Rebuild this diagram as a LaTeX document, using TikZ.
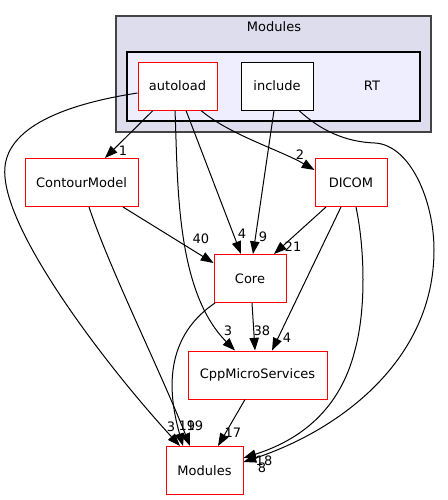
\documentclass[tikz,border=0pt]{standalone}
\usepackage{fontspec}
\setmainfont{DejaVu Sans}
\usepackage{tikz}
\usetikzlibrary{arrows.meta,calc}
\definecolor{dxred}{RGB}{255,0,0}
\definecolor{dxouter}{RGB}{221,221,238}
\definecolor{dxinner}{RGB}{238,238,255}
\definecolor{dxgray}{RGB}{68,68,68}
\tikzstyle{dirbox} = [rectangle, minimum height=36pt, inner sep=0pt, text centered, draw=dxred, fill=white, line width=0.75pt, font=\fontsize{9.75}{11}\selectfont]
\tikzstyle{localbox} = [dirbox, draw=black]
\tikzstyle{outerbox} = [draw=dxgray, fill=dxouter, line width=0.8pt]
\tikzstyle{innerbox} = [draw=black, fill=dxinner, line width=0.8pt]
\tikzstyle{deplabel} = [inner sep=0pt, font=\fontsize{9.75}{11}\selectfont]
\tikzstyle{dep} = [line width=0.75pt, -{Triangle[length=9.5pt,width=7pt]}, color=black]

\begin{document}
\begin{tikzpicture}[x=0.75pt, y=-0.75pt]
\useasboundingbox (0,0) rectangle (447,500);

% Modules cluster
\draw[outerbox] (116,16) rectangle (431,132);
\node[deplabel] (modtitle) at (274,27) {Modules};

% RT cluster
\draw[innerbox] (127,52) rectangle (420,121);
\node[deplabel] (rttitle) at (372,86) {RT};

% Directories inside RT
\node[dirbox, minimum width=59.25pt] (autoload) at (177.5,86) {autoload};
\node[localbox, minimum width=54pt] (include) at (277,86) {include};

% Other directories
\node[dirbox, minimum width=84.75pt] (contour) at (81.5,182.5) {ContourModel};
\node[dirbox, minimum width=54pt] (dicom) at (351,182.5) {DICOM};
\node[dirbox, minimum width=54pt] (core) at (250,278.5) {Core};
\node[dirbox, minimum width=104.25pt] (cppms) at (257.5,375) {CppMicroServices};
\node[dirbox, minimum width=57.75pt] (modules) at (204.5,470.5) {Modules};

% autoload dependencies
\draw[dep] ($(autoload.south)+(-24.5,0)$) -- ($(contour.north)+(23.5,0)$);
\draw[dep] ($(autoload.south)+(23.5,0)$) .. controls (230,135) and (280,150) .. ($(dicom.west)+(0,-12.5)$);
\draw[dep] ($(autoload.south)+(8.5,0)$) -- ($(core.north)+(-9,0)$);
\draw[dep] ($(autoload.south)+(-2.5,0)$) .. controls (178,180) and (175,290) .. ($(cppms.north)+(-22.5,0)$);
\draw[dep] ($(autoload.west)+(0,7)$) .. controls (60,105) and (0,130) .. (5,177)
  .. controls (10,240) and (110,370) .. ($(modules.north)+(-24.5,0)$);

% include dependencies
\draw[dep] ($(include.south)+(-3,0)$) -- ($(core.north)+(3,0)$);
\draw[dep] ($(include.south)+(22,0)$) .. controls (320,130) and (345,142) .. (375,143)
  .. controls (410,145) and (434,200) .. (434,250)
  .. controls (434,360) and (340,430) .. ($(modules.east)+(0,-8.5)$);

% ContourModel dependencies
\draw[dep] ($(contour.south)+(41.5,0)$) -- ($(core.west)+(0,-15.5)$);
\draw[dep] ($(contour.south)+(7.5,0)$) .. controls (110,270) and (160,370) .. ($(modules.north)+(-14.5,0)$);

% DICOM dependencies
\draw[dep] ($(dicom.south)+(-25,0)$) -- ($(core.north)+(24,0)$);
\draw[dep] ($(dicom.south)+(-10,0)$) -- ($(cppms.north)+(14.5,0)$);
\draw[dep] ($(dicom.south)+(5,0)$) .. controls (365,250) and (366,310) .. (355,350)
  .. controls (340,410) and (300,440) .. ($(modules.east)+(0,-12.5)$);

% Core and CppMicroServices
\draw[dep] ($(core.south)+(-35,0)$) .. controls (160,340) and (170,400) .. ($(modules.north)+(-21.5,0)$);
\draw[dep] ($(core.south)+(2,0)$) -- ($(cppms.north)+(-2.5,0)$);
\draw[dep] ($(cppms.south)+(-12.5,0)$) -- ($(modules.north)+(13.5,0)$);

% Counts
\node[deplabel] (n1) at (123,151) {1};
\node[deplabel] (n2) at (300,155) {2};
\node[deplabel] (n3) at (242,234) {4};
\node[deplabel] (n4) at (263,237) {9};
\node[deplabel] (n5) at (201,239) {40};
\node[deplabel] (n6) at (293,247) {21};
\node[deplabel] (n7) at (228,331) {3};
\node[deplabel] (n8) at (262,331) {38};
\node[deplabel] (n9) at (287,338) {4};
\node[deplabel] (n10) at (171,427) {3};
\node[deplabel] (n11) at (187,426) {19};
\node[deplabel] (n12) at (195,426) {19};
\node[deplabel] (n13) at (233,433) {17};
\node[deplabel] (n14) at (264,461) {18};
\node[deplabel] (n15) at (262,468) {8};
\end{tikzpicture}
\end{document}
